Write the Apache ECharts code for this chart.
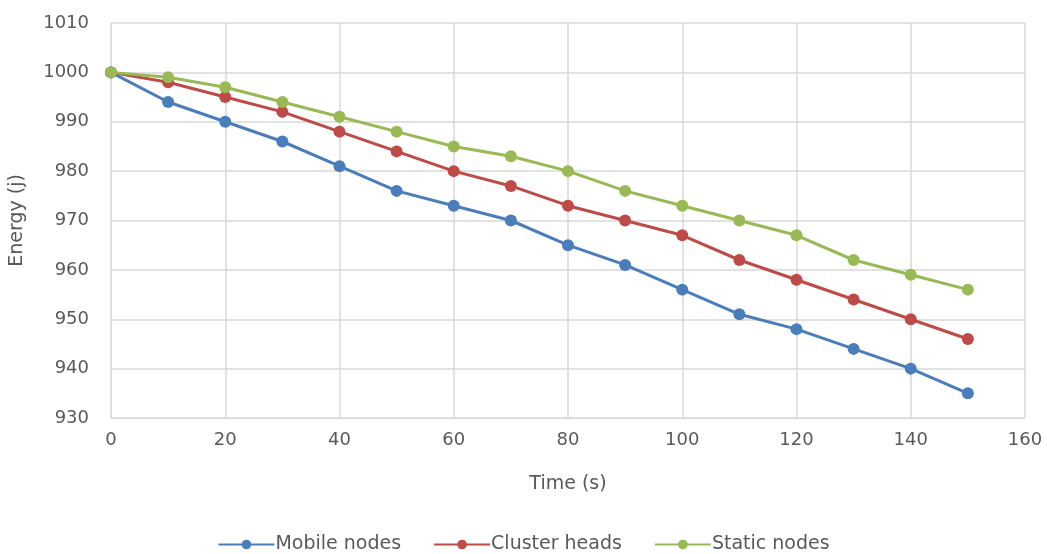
<!DOCTYPE html>
<html>
<head>
<meta charset="utf-8">
<script src="https://cdn.jsdelivr.net/npm/echarts@6/dist/echarts.min.js"></script>
<style>html,body{margin:0;padding:0;background:#fff;}#c{width:1047px;height:554px;}</style>
</head>
<body>
<div id="c"></div>
<script>
const times = [0,10,20,30,40,50,60,70,80,90,100,110,120,130,140,150];
const mobileNodes = [1000,994,990,986,981,976,973,970,965,961,956,951,948,944,940,935];
const clusterHeads = [1000,998,995,992,988,984,980,977,973,970,967,962,958,954,950,946];
const staticNodes = [1000,999,997,994,991,988,985,983,980,976,973,970,967,962,959,956];
const seriesNames = ['Mobile nodes','Cluster heads','Static nodes'];
const colors = ['#4a7ebb','#be4b48','#98b954'];

const chart = echarts.init(document.getElementById('c'));
const font = 'DejaVu Sans, sans-serif';
const txt = '#595959';
function mk(name, vals, color){
  return {
    name: name, type: 'line',
    data: times.map((t,i)=>[t, vals[i]]),
    symbol: 'circle', symbolSize: 12,
    lineStyle: {width: 3, color: color},
    itemStyle: {color: color},
    emphasis: {disabled: true}
  };
}
chart.setOption({
  animation: false,
  grid: {left: 110, right: 22, top: 23, bottom: 136},
  legend: {
    bottom: -5, left: 'center', itemWidth: 56, itemHeight: 12, itemGap: 32,
    data: seriesNames,
    textStyle: {color: txt, fontSize: 19, fontFamily: font, padding: [0,0,0,-4]}
  },
  xAxis: {
    type: 'value', min: 0, max: 160, interval: 20,
    name: 'Time (s)', nameLocation: 'middle', nameGap: 57,
    nameTextStyle: {color: txt, fontSize: 19, fontFamily: font},
    axisLine: {show: true, lineStyle: {color: '#d9d9d9', width: 1}},
    axisTick: {show: false},
    axisLabel: {color: txt, fontSize: 18, fontFamily: font, margin: 13},
    splitLine: {show: true, lineStyle: {color: '#d9d9d9', width: 1.5}}
  },
  yAxis: {
    type: 'value', min: 930, max: 1010, interval: 10,
    name: 'Energy (j)', nameLocation: 'middle', nameGap: 84, nameRotate: 90,
    nameTextStyle: {color: txt, fontSize: 19, fontFamily: font},
    axisLine: {show: true, lineStyle: {color: '#d9d9d9', width: 1}},
    axisTick: {show: false},
    axisLabel: {color: txt, fontSize: 18, fontFamily: font, margin: 22, formatter: v => String(v)},
    splitLine: {show: true, lineStyle: {color: '#d9d9d9', width: 1.5}}
  },
  series: [
    mk(seriesNames[0], mobileNodes, colors[0]),
    mk(seriesNames[1], clusterHeads, colors[1]),
    mk(seriesNames[2], staticNodes, colors[2])
  ]
});
</script>
</body>
</html>
